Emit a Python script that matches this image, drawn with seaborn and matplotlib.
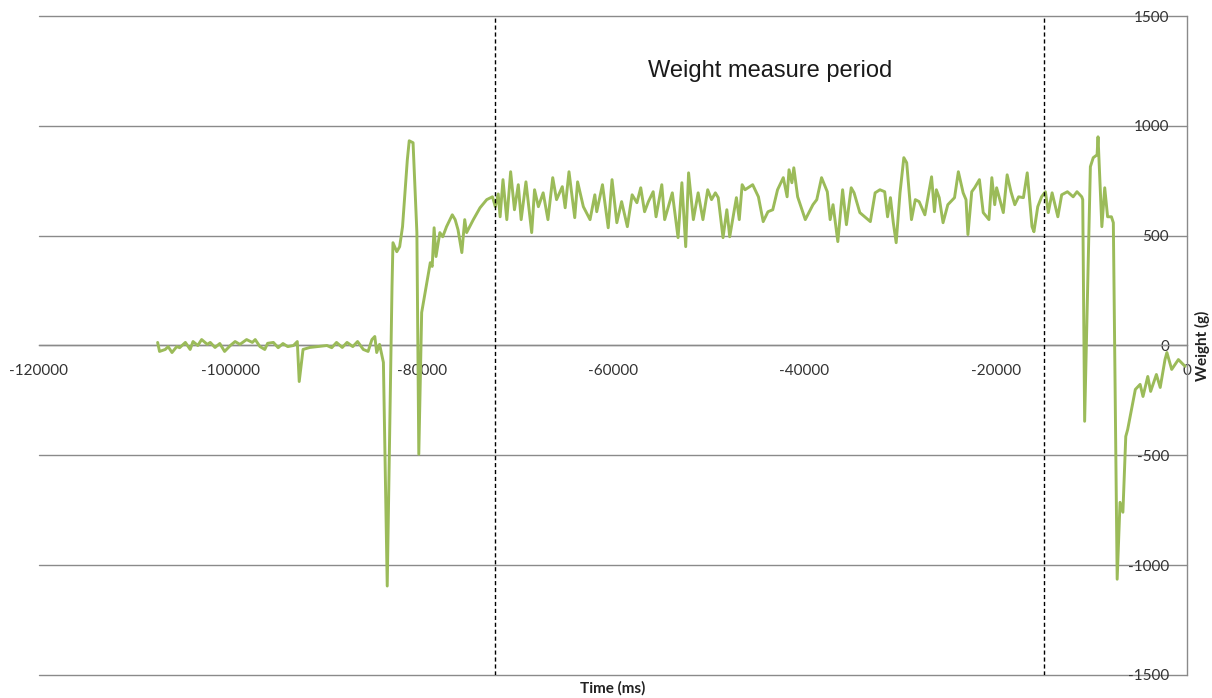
import numpy as np
import pandas as pd
import matplotlib
matplotlib.use("Agg")
import matplotlib.pyplot as plt
import seaborn as sns

# Recorded load-cell trace: time before release (ms) and weight (g)
time_ms = [
    -107600, -107400, -106800, -106500, -106100, -105600, -105300, -104700, -104200, -103900,
    -103400, -103000, -102400, -102100, -101600, -101100, -100600, -100000, -99500, -99000,
    -98300, -97700, -97400, -96900, -96400, -96100, -95500, -95000, -94500, -94000,
    -93400, -93000, -92800, -92400, -91700, -90900, -89900, -89400, -88900, -88300,
    -87800, -87200, -86700, -86100, -85600, -85200, -84900, -84700, -84400, -84000,
    -83600, -83100, -83000, -82600, -82300, -82000, -81500, -81300, -80900, -80500,
    -80300, -80000, -79400, -79100, -78900, -78700, -78500, -78100, -77800, -77400,
    -76800, -76500, -76200, -75800, -75500, -75300, -74600, -73900, -73200, -72600,
    -72300, -72000, -71800, -71500, -71100, -70700, -70300, -69900, -69600, -69100,
    -68500, -68200, -67800, -67300, -66800, -66300, -65900, -65300, -65000, -64600,
    -64000, -63700, -63100, -62400, -61900, -61700, -61100, -60500, -60100, -59600,
    -59100, -58500, -58000, -57500, -57100, -56700, -56300, -55800, -55500, -54900,
    -54600, -53800, -53200, -52800, -52400, -52100, -51600, -51100, -50600, -50100,
    -49700, -49300, -49000, -48500, -48100, -47800, -47100, -46800, -46500, -46200,
    -45400, -44800, -44300, -43800, -43300, -42800, -42200, -41800, -41600, -41300,
    -41100, -40700, -39900, -39100, -38700, -38200, -37600, -37300, -37000, -36800,
    -36500, -36000, -35600, -35100, -34800, -34200, -33100, -32600, -32100, -31600,
    -31300, -31000, -30700, -30400, -30000, -29600, -29300, -28800, -28400, -28000,
    -27400, -26700, -26400, -26200, -25900, -25500, -25000, -24300, -23900, -23400,
    -23100, -22900, -22500, -22200, -21700, -21300, -20700, -20400, -20100, -19900,
    -19200, -18800, -18400, -18000, -17600, -17100, -16700, -16200, -16000, -15600,
    -15200, -14800, -14500, -14100, -13500, -13100, -12500, -11900, -11500, -11000,
    -10900, -10700, -10100, -9800, -9400, -9300, -8900, -8600, -8300, -7900,
    -7700, -7300, -7000, -6700, -6400, -6200, -5400, -4900, -4600, -4100,
    -3800, -3200, -2800, -2300, -2100, -1600, -900, -200,
]
weight_g = [
    14, -27, -18, -5, -32, -5, -10, 14, -18, 18,
    0, 27, 5, 14, -9, 9, -27, 0, 18, 5,
    27, 14, 27, -5, -18, 10, 14, -10, 9, -5,
    0, 18, -164, -18, -9, -5, 0, -10, 14, -9,
    14, -5, 18, -18, -27, 27, 41, -32, 5, -77,
    -1095, 268, 468, 427, 450, 541, 845, 932, 923, 514,
    -495, 150, 300, 377, 360, 536, 405, 514, 495, 541,
    595, 573, 527, 423, 573, 514, 573, 627, 664, 677,
    632, 690, 586, 755, 573, 791, 618, 732, 573, 745,
    514, 709, 632, 695, 573, 764, 664, 723, 627, 791,
    582, 745, 632, 573, 686, 609, 732, 536, 755, 559,
    655, 541, 686, 650, 718, 609, 655, 700, 586, 732,
    573, 695, 491, 741, 450, 786, 573, 695, 573, 709,
    664, 695, 673, 491, 618, 495, 673, 573, 732, 709,
    732, 677, 564, 609, 618, 709, 764, 677, 800, 741,
    809, 677, 573, 641, 664, 764, 700, 573, 641, 573,
    473, 709, 550, 718, 695, 605, 564, 695, 709, 700,
    586, 673, 559, 468, 695, 855, 832, 573, 664, 655,
    595, 768, 609, 709, 673, 559, 641, 673, 791, 695,
    664, 505, 700, 718, 755, 605, 573, 764, 641, 718,
    605, 777, 700, 641, 677, 673, 786, 541, 518, 632,
    677, 700, 605, 695, 586, 686, 700, 677, 700, 677,
    664, -345, 814, 855, 868, 950, 541, 718, 586, 586,
    559, -1064, -714, -759, -414, -382, -200, -177, -232, -141,
    -209, -132, -191, -64, -32, -109, -64, -95,
]

# Boundaries of the measurement window (ms)
period_bounds = [-72300, -15000]
period_label = "Weight measure period"

x_ticks = [-120000, -100000, -80000, -60000, -40000, -20000, 0]
y_ticks = [-1500, -1000, -500, 0, 500, 1000, 1500]

df = pd.DataFrame({"Time (ms)": time_ms, "Weight (g)": weight_g})

sns.set_style("white")
plt.rcParams["font.family"] = ["Lato", "DejaVu Sans"]

fig = plt.figure(figsize=(12.12, 6.98), dpi=100)
ax = fig.add_axes([39 / 1212, 1 - 675 / 698, 1148 / 1212, 659 / 698])

grid_color = "#8a8a8a"

sns.lineplot(data=df, x="Time (ms)", y="Weight (g)", ax=ax, sort=False,
             estimator=None, color="#9bbb59", linewidth=2.1, zorder=3)

for b in period_bounds:
    ax.axvline(b, color="black", linestyle=(0, (3, 2)), linewidth=1.0, zorder=4)

ax.set_xlim(x_ticks[0], x_ticks[-1])
ax.set_ylim(y_ticks[0], y_ticks[-1])
ax.set_xticks(x_ticks)
ax.set_yticks(y_ticks)
ax.set_xticklabels([str(v) for v in x_ticks])
ax.set_yticklabels([str(v) for v in y_ticks])

# horizontal gridlines (kept unclipped so the outer ones show in full)
ax.yaxis.grid(True, color=grid_color, linewidth=1.0, zorder=0)
ax.xaxis.grid(False)
for gl in ax.get_ygridlines():
    gl.set_clip_on(False)

# spines: category axis crosses at 0, value axis sits at the right edge
for side in ["left", "top"]:
    ax.spines[side].set_visible(False)
ax.spines["bottom"].set_position(("data", 0))
ax.spines["bottom"].set_color(grid_color)
ax.spines["bottom"].set_linewidth(1.0)
ax.spines["right"].set_visible(True)
ax.spines["right"].set_color(grid_color)
ax.spines["right"].set_linewidth(1.0)

ax.tick_params(axis="x", direction="out", length=4.5, width=1.0, color=grid_color,
               labelsize=11, labelcolor="#333333", pad=9)
ax.tick_params(axis="y", left=False, right=False, labelleft=False, labelright=True,
               length=0, labelsize=11, labelcolor="#333333", pad=-13)
for lbl in ax.get_yticklabels():
    lbl.set_horizontalalignment("right")

ax.set_xlabel("Time (ms)", fontsize=11, fontweight="bold", color="#222222")
ax.xaxis.label.set_verticalalignment("center")
ax.xaxis.set_label_coords(0.5, (675 - 688) / 659)

ax.yaxis.set_label_position("right")
ax.set_ylabel("Weight (g)", fontsize=11, fontweight="bold", color="#222222",
              rotation=90, labelpad=6)

ax.text(0.6368, 0.9165, period_label, transform=ax.transAxes, ha="center",
        va="center", fontsize=17, family=["Liberation Sans", "DejaVu Sans"],
        color="#1a1a1a")

fig.savefig("out.png", dpi=100, facecolor="white")
